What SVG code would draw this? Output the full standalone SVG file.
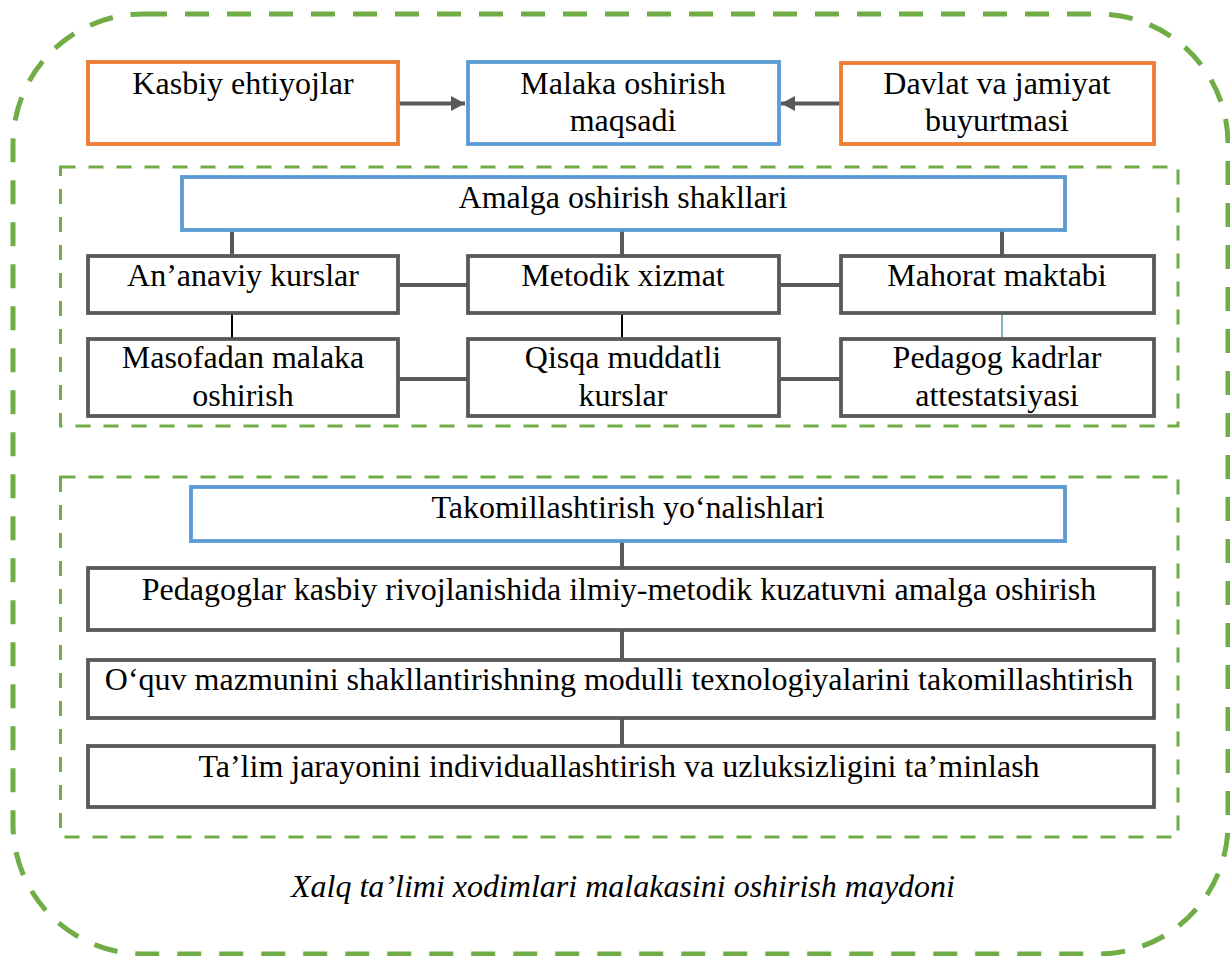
<svg xmlns="http://www.w3.org/2000/svg" width="1230" height="956" viewBox="0 0 1230 956">
<defs>
<style>
.o{fill:#fff;stroke:#ED7D31;stroke-width:3.8}
.b{fill:#fff;stroke:#5B9BD5;stroke-width:3.8}
.g{fill:#fff;stroke:#595959;stroke-width:3.8}
.t{font-family:'Liberation Serif','DejaVu Serif',serif;font-size:32px;fill:#000;text-anchor:middle}
.i{font-style:italic}
.c{stroke:#595959;stroke-width:4;fill:none}
.zone{fill:none;stroke:#70AD47;stroke-width:3;stroke-dasharray:15 13}
</style>
<marker id="ah" viewBox="0 0 14 15" refX="14" refY="7.5" markerWidth="14" markerHeight="15" markerUnits="userSpaceOnUse" orient="auto">
<path d="M0,0 L14,7.5 L0,15 Z" fill="#595959"/>
</marker>
</defs>
<rect width="1230" height="956" fill="#fff"/>
<rect id="field" x="13" y="14" width="1215" height="940" rx="130" ry="130" fill="none" stroke="#70AD47" stroke-width="5" stroke-dasharray="24 18"/>
<rect id="zone1" class="zone" x="60.5" y="167" width="1117.5" height="259"/>
<rect id="zone2" class="zone" x="60.5" y="477" width="1117.5" height="360"/>
<g id="connectors">
<line class="c" x1="398" y1="103.5" x2="465" y2="103.5" marker-end="url(#ah)"/>
<line class="c" x1="840" y1="103.5" x2="781" y2="103.5" marker-end="url(#ah)"/>
<line class="c" x1="232" y1="230" x2="232" y2="255"/>
<line class="c" x1="622" y1="230" x2="622" y2="255"/>
<line class="c" x1="1002" y1="230" x2="1002" y2="255"/>
<line class="c" x1="398" y1="285" x2="467" y2="285"/>
<line class="c" x1="779" y1="285" x2="840" y2="285"/>
<line x1="232" y1="313" x2="232" y2="338" stroke="#000" stroke-width="2"/>
<line x1="622" y1="313" x2="622" y2="338" stroke="#000" stroke-width="2"/>
<line x1="1002" y1="313" x2="1002" y2="338" stroke="#31849B" stroke-width="1.2"/>
<line class="c" x1="398" y1="379" x2="467" y2="379"/>
<line class="c" x1="779" y1="379" x2="840" y2="379"/>
<line class="c" x1="622" y1="541" x2="622" y2="567"/>
<line class="c" x1="622" y1="630" x2="622" y2="659"/>
<line class="c" x1="622" y1="718" x2="622" y2="745"/>
</g>
<g id="kasbiy"><rect class="o" x="88" y="62" width="310" height="82"/><text class="t" x="243" y="94">Kasbiy ehtiyojlar</text></g>
<g id="malaka"><rect class="b" x="468" y="62" width="311" height="82"/><text class="t" x="623" y="94">Malaka oshirish</text><text class="t" x="623" y="131">maqsadi</text></g>
<g id="davlat"><rect class="o" x="841" y="63" width="313" height="81"/><text class="t" x="997" y="94">Davlat va jamiyat</text><text class="t" x="997" y="131">buyurtmasi</text></g>
<g id="amalga"><rect class="b" x="182" y="177" width="883" height="53"/><text class="t" x="623" y="208">Amalga oshirish shakllari</text></g>
<g id="ananaviy"><rect class="g" x="88" y="256" width="310" height="57"/><text class="t" x="243" y="286">An’anaviy kurslar</text></g>
<g id="metodik"><rect class="g" x="468" y="256" width="311" height="57"/><text class="t" x="623" y="286">Metodik xizmat</text></g>
<g id="mahorat"><rect class="g" x="841" y="256" width="313" height="57"/><text class="t" x="997" y="286">Mahorat maktabi</text></g>
<g id="masofadan"><rect class="g" x="88" y="339" width="310" height="77"/><text class="t" x="243" y="368">Masofadan malaka</text><text class="t" x="243" y="406">oshirish</text></g>
<g id="qisqa"><rect class="g" x="468" y="339" width="311" height="77"/><text class="t" x="623" y="368">Qisqa muddatli</text><text class="t" x="623" y="406">kurslar</text></g>
<g id="pedagog"><rect class="g" x="841" y="339" width="313" height="77"/><text class="t" x="997" y="368">Pedagog kadrlar</text><text class="t" x="997" y="406">attestatsiyasi</text></g>
<g id="takomil"><rect class="b" x="191" y="487" width="874" height="54"/><text class="t" x="628" y="518">Takomillashtirish yo‘nalishlari</text></g>
<g id="yon1"><rect class="g" x="88" y="568" width="1066" height="62"/><text class="t" x="619" y="600">Pedagoglar kasbiy rivojlanishida ilmiy-metodik kuzatuvni amalga oshirish</text></g>
<g id="yon2"><rect class="g" x="88" y="660" width="1066" height="58"/><text class="t" x="619" y="690">O‘quv mazmunini shakllantirishning modulli texnologiyalarini takomillashtirish</text></g>
<g id="yon3"><rect class="g" x="88" y="746" width="1066" height="61"/><text class="t" x="619" y="777">Ta’lim jarayonini individuallashtirish va uzluksizligini ta’minlash</text></g>
<text id="caption" class="t i" x="623" y="897">Xalq ta’limi xodimlari malakasini oshirish maydoni</text>
</svg>
